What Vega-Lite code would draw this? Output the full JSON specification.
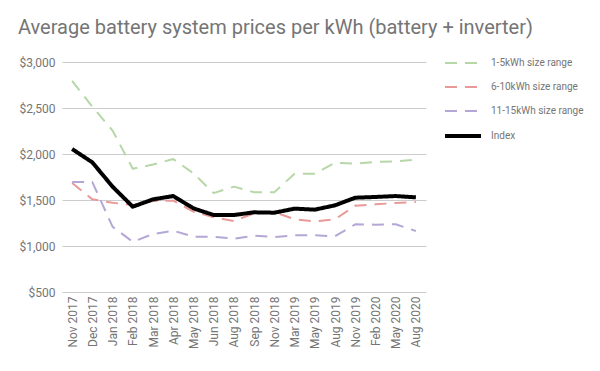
{
  "$schema": "https://vega.github.io/schema/vega-lite/v6.json",
  "width": 364,
  "height": 230,
  "autosize": {"type": "none"},
  "padding": {"left": 62, "top": 62, "right": 174, "bottom": 79},
  "background": "white",
  "config": {
    "font": "Roboto",
    "view": {"stroke": null}
  },
  "title": {
    "text": "Average battery system prices per kWh (battery + inverter)",
    "anchor": "start",
    "frame": "group",
    "dx": -44,
    "offset": 6,
    "fontSize": 20,
    "fontWeight": "normal",
    "color": "#757575",
    "font": "Roboto"
  },
  "data": {
    "values": [
      {"date": "Nov 2017", "series": "1-5kWh size range", "price": 2795},
      {"date": "Dec 2017", "series": "1-5kWh size range", "price": 2515},
      {"date": "Jan 2018", "series": "1-5kWh size range", "price": 2255},
      {"date": "Feb 2018", "series": "1-5kWh size range", "price": 1840},
      {"date": "Mar 2018", "series": "1-5kWh size range", "price": 1885},
      {"date": "Apr 2018", "series": "1-5kWh size range", "price": 1945},
      {"date": "May 2018", "series": "1-5kWh size range", "price": 1790},
      {"date": "Jun 2018", "series": "1-5kWh size range", "price": 1575},
      {"date": "Aug 2018", "series": "1-5kWh size range", "price": 1645},
      {"date": "Sep 2018", "series": "1-5kWh size range", "price": 1585},
      {"date": "Nov 2018", "series": "1-5kWh size range", "price": 1585},
      {"date": "Mar 2019", "series": "1-5kWh size range", "price": 1785},
      {"date": "May 2019", "series": "1-5kWh size range", "price": 1785},
      {"date": "Aug 2019", "series": "1-5kWh size range", "price": 1905},
      {"date": "Nov 2019", "series": "1-5kWh size range", "price": 1895},
      {"date": "Feb 2020", "series": "1-5kWh size range", "price": 1915},
      {"date": "May 2020", "series": "1-5kWh size range", "price": 1920},
      {"date": "Aug 2020", "series": "1-5kWh size range", "price": 1940},

      {"date": "Nov 2017", "series": "6-10kWh size range", "price": 1685},
      {"date": "Dec 2017", "series": "6-10kWh size range", "price": 1507},
      {"date": "Jan 2018", "series": "6-10kWh size range", "price": 1470},
      {"date": "Feb 2018", "series": "6-10kWh size range", "price": 1445},
      {"date": "Mar 2018", "series": "6-10kWh size range", "price": 1489},
      {"date": "Apr 2018", "series": "6-10kWh size range", "price": 1493},
      {"date": "May 2018", "series": "6-10kWh size range", "price": 1373},
      {"date": "Jun 2018", "series": "6-10kWh size range", "price": 1312},
      {"date": "Aug 2018", "series": "6-10kWh size range", "price": 1272},
      {"date": "Sep 2018", "series": "6-10kWh size range", "price": 1355},
      {"date": "Nov 2018", "series": "6-10kWh size range", "price": 1370},
      {"date": "Mar 2019", "series": "6-10kWh size range", "price": 1290},
      {"date": "May 2019", "series": "6-10kWh size range", "price": 1268},
      {"date": "Aug 2019", "series": "6-10kWh size range", "price": 1290},
      {"date": "Nov 2019", "series": "6-10kWh size range", "price": 1438},
      {"date": "Feb 2020", "series": "6-10kWh size range", "price": 1453},
      {"date": "May 2020", "series": "6-10kWh size range", "price": 1467},
      {"date": "Aug 2020", "series": "6-10kWh size range", "price": 1478},

      {"date": "Nov 2017", "series": "11-15kWh size range", "price": 1695},
      {"date": "Dec 2017", "series": "11-15kWh size range", "price": 1695},
      {"date": "Jan 2018", "series": "11-15kWh size range", "price": 1210},
      {"date": "Feb 2018", "series": "11-15kWh size range", "price": 1045},
      {"date": "Mar 2018", "series": "11-15kWh size range", "price": 1130},
      {"date": "Apr 2018", "series": "11-15kWh size range", "price": 1167},
      {"date": "May 2018", "series": "11-15kWh size range", "price": 1101},
      {"date": "Jun 2018", "series": "11-15kWh size range", "price": 1100},
      {"date": "Aug 2018", "series": "11-15kWh size range", "price": 1080},
      {"date": "Sep 2018", "series": "11-15kWh size range", "price": 1112},
      {"date": "Nov 2018", "series": "11-15kWh size range", "price": 1098},
      {"date": "Mar 2019", "series": "11-15kWh size range", "price": 1116},
      {"date": "May 2019", "series": "11-15kWh size range", "price": 1116},
      {"date": "Aug 2019", "series": "11-15kWh size range", "price": 1105},
      {"date": "Nov 2019", "series": "11-15kWh size range", "price": 1236},
      {"date": "Feb 2020", "series": "11-15kWh size range", "price": 1232},
      {"date": "May 2020", "series": "11-15kWh size range", "price": 1236},
      {"date": "Aug 2020", "series": "11-15kWh size range", "price": 1163},

      {"date": "Nov 2017", "series": "Index", "price": 2054},
      {"date": "Dec 2017", "series": "Index", "price": 1909},
      {"date": "Jan 2018", "series": "Index", "price": 1645},
      {"date": "Feb 2018", "series": "Index", "price": 1427},
      {"date": "Mar 2018", "series": "Index", "price": 1507},
      {"date": "Apr 2018", "series": "Index", "price": 1543},
      {"date": "May 2018", "series": "Index", "price": 1409},
      {"date": "Jun 2018", "series": "Index", "price": 1337},
      {"date": "Aug 2018", "series": "Index", "price": 1337},
      {"date": "Sep 2018", "series": "Index", "price": 1366},
      {"date": "Nov 2018", "series": "Index", "price": 1362},
      {"date": "Mar 2019", "series": "Index", "price": 1406},
      {"date": "May 2019", "series": "Index", "price": 1395},
      {"date": "Aug 2019", "series": "Index", "price": 1442},
      {"date": "Nov 2019", "series": "Index", "price": 1525},
      {"date": "Feb 2020", "series": "Index", "price": 1533},
      {"date": "May 2020", "series": "Index", "price": 1543},
      {"date": "Aug 2020", "series": "Index", "price": 1529}
    ]
  },
  "mark": {"type": "line", "strokeCap": "butt", "strokeJoin": "round"},
  "encoding": {
    "x": {
      "field": "date",
      "type": "ordinal",
      "sort": null,
      "scale": {"type": "point", "padding": 0.5},
      "axis": {
        "title": null,
        "labelAngle": -90,
        "labelFontSize": 12,
        "labelColor": "#757575",
        "labelPadding": 4,
        "ticks": false,
        "domain": false,
        "grid": false
      }
    },
    "y": {
      "field": "price",
      "type": "quantitative",
      "scale": {"domain": [500, 3000], "nice": false, "zero": false},
      "axis": {
        "title": null,
        "values": [500, 1000, 1500, 2000, 2500, 3000],
        "format": "$,.0f",
        "labelFontSize": 12,
        "labelColor": "#757575",
        "labelPadding": 7,
        "ticks": false,
        "domain": false,
        "gridColor": "#cccccc",
        "gridWidth": 1
      }
    },
    "color": {
      "field": "series",
      "type": "nominal",
      "scale": {
        "domain": ["1-5kWh size range", "6-10kWh size range", "11-15kWh size range", "Index"],
        "range": ["#b6d7a8", "#ea9999", "#b4a7d6", "#000000"]
      },
      "legend": {
        "title": null,
        "orient": "none",
        "legendX": 381,
        "legendY": -18,
        "symbolType": "stroke",
        "symbolSize": 1296,
        "labelFontSize": 10,
        "labelColor": "#757575",
        "labelOffset": 8,
        "rowPadding": -13
      }
    },
    "strokeDash": {
      "field": "series",
      "type": "nominal",
      "scale": {
        "domain": ["1-5kWh size range", "6-10kWh size range", "11-15kWh size range", "Index"],
        "range": [[12, 8], [12, 8], [12, 8], [1, 0]]
      }
    },
    "strokeWidth": {
      "field": "series",
      "type": "ordinal",
      "scale": {
        "type": "ordinal",
        "domain": ["1-5kWh size range", "6-10kWh size range", "11-15kWh size range", "Index"],
        "range": [2, 2, 2, 4]
      }
    },
    "order": {"field": "series", "sort": "descending"}
  }
}
